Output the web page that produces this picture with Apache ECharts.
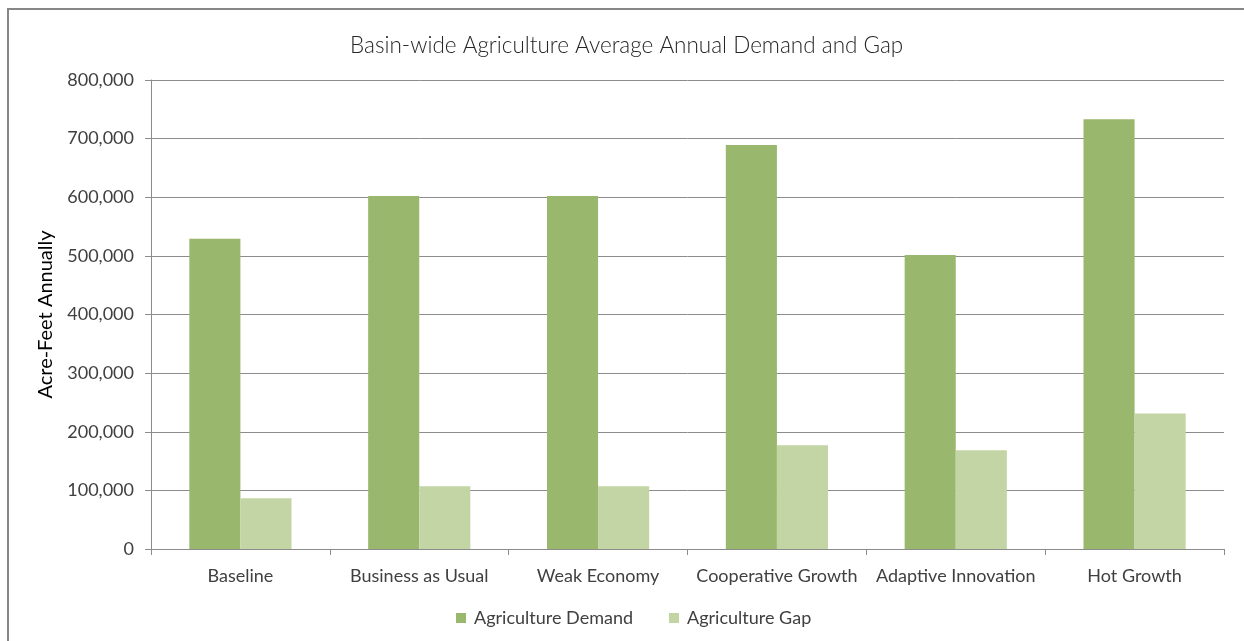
<!DOCTYPE html>
<html>
<head>
<meta charset="utf-8">
<style>
  html, body { margin: 0; padding: 0; background: #ffffff; }
  #chart { width: 1244px; height: 641px; }
</style>
<script src="https://cdn.jsdelivr.net/npm/echarts@6/dist/echarts.min.js"></script>
</head>
<body>
<div id="chart"></div>
<script>
// Scenario categories and annual agriculture values (acre-feet)
const categories = ['Baseline', 'Business as Usual', 'Weak Economy', 'Cooperative Growth', 'Adaptive Innovation', 'Hot Growth'];
const demandValues = [529000, 602000, 602000, 689000, 501500, 733000];
const gapValues = [86500, 107000, 107000, 177000, 168500, 231000];
const seriesNames = ['Agriculture Demand', 'Agriculture Gap'];

const FONT = 'Lato, "Open Sans", sans-serif';
const AXIS_GREY = '#8c8c8c';

const chart = echarts.init(document.getElementById('chart'), null, { renderer: 'canvas' });

chart.setOption({
  backgroundColor: '#ffffff',
  animation: false,
  title: {
    text: 'Basin-wide Agriculture Average Annual Demand and Gap',
    left: 345,
    top: 29,
    textStyle: { fontFamily: FONT, fontSize: 22.5, fontWeight: 300, color: '#262626' }
  },
  legend: {
    data: seriesNames,
    left: 456,
    top: 609,
    padding: 0,
    itemWidth: 10,
    itemHeight: 10,
    itemGap: 36,
    icon: 'rect',
    textStyle: { fontFamily: FONT, fontSize: 18, color: '#404040', padding: [0, 0, 0, 3] }
  },
  grid: { left: 151, right: 20, top: 80, bottom: 92, containLabel: false },
  xAxis: {
    type: 'category',
    data: categories,
    axisLine: { lineStyle: { color: AXIS_GREY, width: 1 } },
    axisTick: { show: true, length: 6, lineStyle: { color: AXIS_GREY } },
    axisLabel: { fontFamily: FONT, fontSize: 18, color: '#404040', margin: 18, interval: 0 }
  },
  yAxis: {
    type: 'value',
    min: 0,
    max: 800000,
    interval: 100000,
    name: 'Acre-Feet Annually',
    nameLocation: 'middle',
    nameGap: 95,
    nameRotate: 90,
    nameTextStyle: { fontFamily: FONT, fontSize: 20, color: '#000000' },
    axisLine: { show: true, lineStyle: { color: AXIS_GREY, width: 1 } },
    axisTick: { show: true, length: 6, lineStyle: { color: AXIS_GREY } },
    axisLabel: {
      fontFamily: FONT, fontSize: 18, color: '#404040', margin: 17,
      formatter: v => v.toLocaleString('en-US')
    },
    splitLine: { show: true, lineStyle: { color: AXIS_GREY, width: 1 } }
  },
  series: [
    {
      name: seriesNames[0],
      type: 'bar',
      data: demandValues,
      barCategoryGap: '42.86%',
      barGap: '0%',
      itemStyle: { color: '#99b76d' }
    },
    {
      name: seriesNames[1],
      type: 'bar',
      data: gapValues,
      barCategoryGap: '42.86%',
      barGap: '0%',
      itemStyle: { color: '#c3d5a4' }
    }
  ],
  graphic: [
    {
      type: 'rect',
      silent: true,
      shape: { x: 8, y: 9, width: 1300, height: 700 },
      style: { fill: 'none', stroke: '#878787', lineWidth: 2 }
    }
  ]
});
</script>
</body>
</html>
